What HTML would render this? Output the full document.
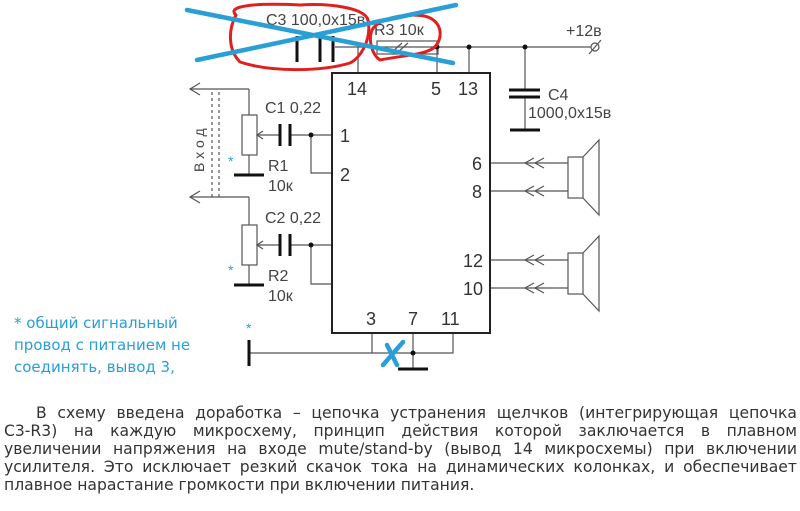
<!DOCTYPE html>
<html><head><meta charset="utf-8"><style>
body{margin:0;width:800px;height:511px;background:#fff;overflow:hidden;position:relative;font-family:"Liberation Sans","DejaVu Sans",sans-serif}
svg{position:absolute;left:0;top:0}
.t{position:absolute;left:4px;width:793px;font-family:"DejaVu Sans","Liberation Sans",sans-serif;font-size:15.6px;color:#333;text-align:justify;text-align-last:justify;white-space:nowrap;line-height:18px;box-sizing:border-box}
.n{position:absolute;left:14px;font-family:"DejaVu Sans",sans-serif;font-size:15px;color:#2a9fd6;line-height:22px}
</style></head><body>
<svg width="800" height="511" viewBox="0 0 800 511" font-family="Liberation Sans, sans-serif" font-size="16" fill="#444">
<g stroke="#555" stroke-width="1.2" fill="none">
<line x1="335" y1="47" x2="593" y2="47"/>
<line x1="358" y1="47" x2="358" y2="73"/>
<line x1="437" y1="47" x2="437" y2="73"/>
<line x1="469" y1="47" x2="469" y2="73"/>
<line x1="525" y1="47" x2="525" y2="90"/>
<line x1="525" y1="97" x2="525" y2="130"/>
<rect x="377" y="41" width="61" height="13"/>
<line x1="392" y1="52" x2="402" y2="43"/><line x1="398" y1="52" x2="408" y2="43"/>
<line x1="190" y1="89" x2="249" y2="89"/><polyline points="200,83 190,89 200,95"/>
<line x1="249" y1="89" x2="249" y2="115"/>
<line x1="190" y1="197" x2="249" y2="197"/><polyline points="200,191 190,197 200,203"/>
<line x1="249" y1="197" x2="249" y2="225"/>
<line x1="212" y1="92" x2="212" y2="200" stroke-dasharray="3,3"/>
<line x1="219" y1="92" x2="219" y2="200" stroke-dasharray="3,3"/>
<rect x="242" y="115" width="15" height="40"/>
<rect x="242" y="225" width="15" height="40"/>
<line x1="249" y1="155" x2="249" y2="175"/>
<line x1="249" y1="265" x2="249" y2="285"/>
<line x1="257" y1="135" x2="281" y2="135"/><polyline points="263,131 257,135 263,139"/>
<line x1="291" y1="135" x2="332" y2="135"/>
<line x1="257" y1="245" x2="281" y2="245"/><polyline points="263,241 257,245 263,249"/>
<line x1="291" y1="245" x2="332" y2="245"/>
<polyline points="311,135 311,173 332,173"/>
<polyline points="311,245 311,284 332,284"/>
<line x1="490" y1="163" x2="568" y2="163"/><line x1="490" y1="191" x2="568" y2="191"/>
<line x1="490" y1="260" x2="568" y2="260"/><line x1="490" y1="288" x2="568" y2="288"/>
<g id="ch"><polyline points="534,158 525,163 534,168"/><polyline points="544,158 535,163 544,168"/></g>
<use href="#ch" y="28"/><use href="#ch" y="97"/><use href="#ch" y="125"/>
<rect x="568" y="157" width="15" height="41"/>
<polyline points="583,157 599,140 599,215 583,198"/>
<rect x="568" y="253" width="15" height="41"/>
<polyline points="583,253 599,236 599,311 583,294"/>
<polyline points="372,333 372,353 453,353 453,333"/>
<line x1="413" y1="333" x2="413" y2="369"/>
<line x1="249" y1="353" x2="372" y2="353"/>
<circle cx="595" cy="47" r="4" fill="#fff"/><line x1="589" y1="54" x2="601" y2="40"/>
</g>
<rect x="332" y="73" width="158" height="260" fill="none" stroke="#222" stroke-width="2"/>
<g stroke="#111" stroke-width="3">
<line x1="297" y1="36" x2="297" y2="62"/><line x1="320" y1="36" x2="320" y2="62"/><line x1="333" y1="36" x2="333" y2="62"/>
<line x1="509" y1="90" x2="540" y2="90"/><line x1="509" y1="97" x2="540" y2="97"/><line x1="510" y1="130" x2="540" y2="130"/>
<line x1="280" y1="124" x2="280" y2="146"/><line x1="290" y1="124" x2="290" y2="146"/>
<line x1="280" y1="234" x2="280" y2="256"/><line x1="290" y1="234" x2="290" y2="256"/>
<line x1="234" y1="175" x2="264" y2="175"/><line x1="234" y1="285" x2="264" y2="285"/>
<line x1="398" y1="369" x2="428" y2="369"/>
<line x1="249" y1="340" x2="249" y2="366"/>
</g>
<g fill="#111"><circle cx="437" cy="47" r="2.5"/><circle cx="469" cy="47" r="2.5"/><circle cx="525" cy="47" r="2.5"/><circle cx="311" cy="135" r="2.5"/><circle cx="311" cy="245" r="2.5"/><circle cx="413" cy="353" r="2.5"/></g>
<g font-size="18" fill="#333">
<text x="347" y="95">14</text><text x="431" y="95">5</text><text x="458" y="95">13</text>
<text x="340" y="142">1</text><text x="340" y="181">2</text>
<text x="472" y="170">6</text><text x="472" y="198">8</text>
<text x="463" y="267">12</text><text x="463" y="295">10</text>
<text x="366" y="325">3</text><text x="408" y="325">7</text><text x="441" y="325">11</text>
</g>
<text x="266" y="25">C3 100,0x15в</text><text x="374" y="35">R3 10к</text>
<text x="566" y="36">+12в</text>
<text x="548" y="100">C4</text><text x="528" y="118">1000,0x15в</text>
<text x="265" y="113">C1 0,22</text><text x="268" y="171">R1</text><text x="268" y="191">10к</text>
<text x="265" y="223">C2 0,22</text><text x="268" y="281">R2</text><text x="268" y="301">10к</text>
<text transform="translate(204,172) rotate(-90)" font-size="14" letter-spacing="4">Вход</text>
<g fill="#2a9fd6" font-size="14"><text x="228" y="166">*</text><text x="228" y="275">*</text><text x="246" y="333">*</text></g>
<g fill="none" stroke="#e02020" stroke-width="3" stroke-linecap="round">
<path d="M236,15 C225,5 260,3 300,5 C330,3 365,8 368,20 C372,40 360,58 350,63 C320,72 270,72 240,62 C228,50 228,30 236,15"/>
<path d="M372,30 C380,15 420,12 430,18 C445,25 442,45 430,50 C420,55 400,56 380,60 C372,55 368,40 372,30"/>
</g>
<g stroke="#2a9fd6" stroke-width="4.5" stroke-linecap="round">
<line x1="187" y1="10" x2="453" y2="63"/><line x1="197" y1="60" x2="456" y2="5"/>
<line x1="383" y1="365" x2="403" y2="342"/><line x1="387" y1="345" x2="397" y2="365"/>
</g>
</svg>
<div class="n" style="top:312px">* общий сигнальный<br>провод с питанием не<br>соединять, вывод 3,</div>
<div class="t" style="top:404px;padding-left:32px">В схему введена доработка – цепочка устранения щелчков (интегрирующая цепочка</div>
<div class="t" style="top:422px">C3-R3) на каждую микросхему, принцип действия которой заключается в плавном</div>
<div class="t" style="top:440px">увеличении напряжения на входе mute/stand-by (вывод 14 микросхемы) при включении</div>
<div class="t" style="top:458px">усилителя. Это исключает резкий скачок тока на динамических колонках, и обеспечивает</div>
<div class="t" style="top:476px;text-align-last:left">плавное нарастание громкости при включении питания.</div>
</body></html>
